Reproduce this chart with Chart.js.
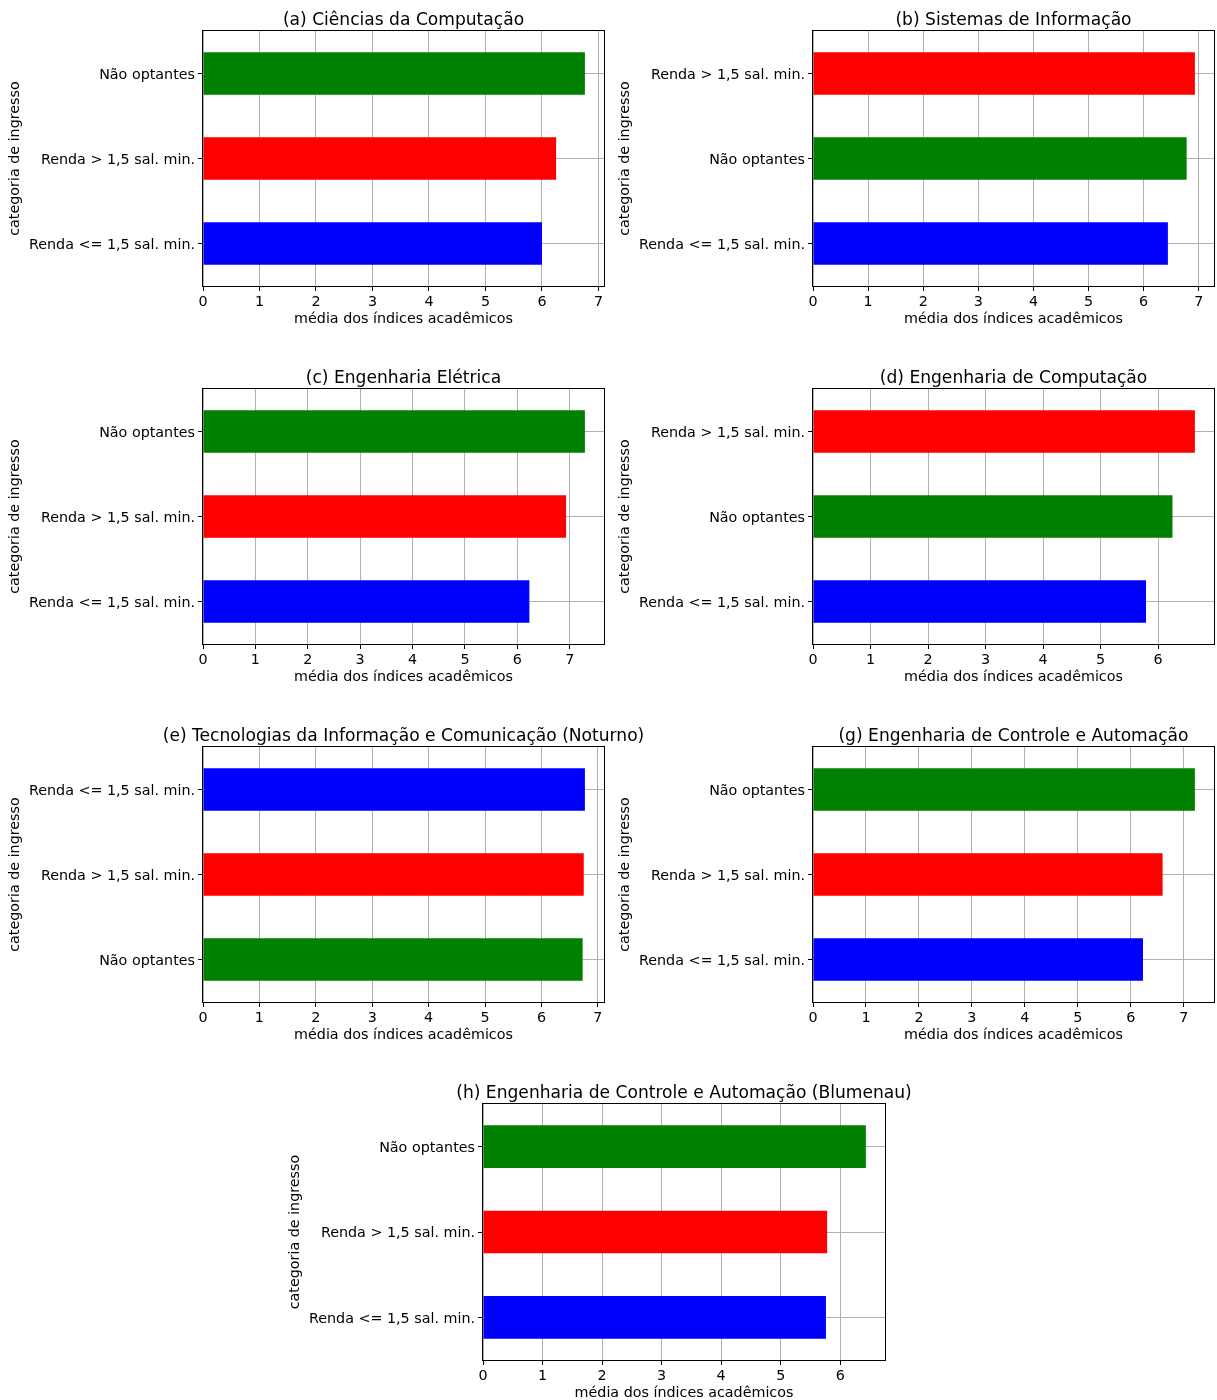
<!DOCTYPE html>
<html>
<head>
<meta charset="utf-8">
<script src="https://cdn.jsdelivr.net/npm/chart.js@4.4.1/dist/chart.umd.min.js"></script>
<style>
  html, body { margin: 0; padding: 0; background: #ffffff; }
  body { width: 1217px; height: 1400px; position: relative; overflow: hidden; }
  canvas { position: absolute; background: transparent; }
</style>
</head>
<body>
<canvas id="cA" width="650" height="336" style="left:0px;top:0px;"></canvas>
<canvas id="cB" width="607" height="336" style="left:610px;top:0px;"></canvas>
<canvas id="cC" width="650" height="336" style="left:0px;top:358px;"></canvas>
<canvas id="cD" width="607" height="336" style="left:610px;top:358px;"></canvas>
<canvas id="cE" width="650" height="336" style="left:0px;top:716px;"></canvas>
<canvas id="cG" width="607" height="336" style="left:610px;top:716px;"></canvas>
<canvas id="cH" width="650" height="337" style="left:280px;top:1073px;"></canvas>
<script>
// ---------- data ----------
const NO = "Não optantes";
const RA = "Renda > 1,5 sal. min.";
const RB = "Renda <= 1,5 sal. min.";

const titleA = "(a) Ciências da Computação";
const catsA = [NO, RA, RB];
const valsA = [6.76, 6.25, 6.00];

const titleB = "(b) Sistemas de Informação";
const catsB = [RA, NO, RB];
const valsB = [6.93, 6.78, 6.44];

const titleC = "(c) Engenharia Elétrica";
const catsC = [NO, RA, RB];
const valsC = [7.29, 6.93, 6.23];

const titleD = "(d) Engenharia de Computação";
const catsD = [RA, NO, RB];
const valsD = [6.64, 6.25, 5.79];

const titleE = "(e) Tecnologias da Informação e Comunicação (Noturno)";
const catsE = [RB, RA, NO];
const valsE = [6.77, 6.75, 6.73];

const titleG = "(g) Engenharia de Controle e Automação";
const catsG = [NO, RA, RB];
const valsG = [7.21, 6.60, 6.23];

const titleH = "(h) Engenharia de Controle e Automação (Blumenau)";
const catsH = [NO, RA, RB];
const valsH = [6.43, 5.78, 5.76];

const xLabel = "média dos índices acadêmicos";
const yLabel = "categoria de ingresso";

// ---------- styles ----------
const catColor = {};
catColor[NO] = "#008000";
catColor[RA] = "#ff0000";
catColor[RB] = "#0000ff";

Chart.defaults.font.family = "'DejaVu Sans', sans-serif";
Chart.defaults.color = "#000000";

const panelTitlePlugin = {
  id: "panelTitle",
  afterDraw(chart, args, opts) {
    const {ctx, chartArea} = chart;
    ctx.save();
    ctx.font = "17.1px 'DejaVu Sans', sans-serif";
    ctx.fillStyle = "#000000";
    ctx.textAlign = "center";
    ctx.textBaseline = "alphabetic";
    ctx.fillText(opts.text, (chartArea.left + chartArea.right) / 2, chartArea.top - 6);
    ctx.restore();
  }
};

const framePlugin = {
  id: "frame",
  afterDraw(chart) {
    const {ctx, chartArea} = chart;
    ctx.save();
    ctx.strokeStyle = "#000000";
    ctx.lineWidth = 1;
    ctx.strokeRect(Math.round(chartArea.left) - 0.5, Math.round(chartArea.top) - 0.5,
                   Math.round(chartArea.right - chartArea.left) + 1,
                   Math.round(chartArea.bottom - chartArea.top) + 1);
    ctx.restore();
  }
};

function makePanel(id, title, cats, vals, padRight) {
  new Chart(document.getElementById(id), {
    type: "bar",
    data: {
      labels: cats,
      datasets: [{
        data: vals,
        backgroundColor: cats.map(c => catColor[c]),
        borderWidth: 0,
        categoryPercentage: 1.0,
        barPercentage: 0.5
      }]
    },
    options: {
      indexAxis: "y",
      responsive: false,
      animation: false,
      layout: { padding: { left: 0, top: 31, right: padRight, bottom: 0 } },
      plugins: {
        legend: { display: false },
        tooltip: { enabled: false },
        panelTitle: { text: title }
      },
      scales: {
        x: {
          type: "linear",
          min: 0,
          max: Math.max(...vals) * 1.05,
          z: 1,
          border: { display: false },
          grid: { color: "#b0b0b0", lineWidth: 1, tickColor: "#000000", tickLength: 5, drawTicks: true },
          ticks: { stepSize: 1, includeBounds: false, padding: 3, color: "#000000",
                   font: { size: 14.3 } },
          title: { display: true, text: xLabel, color: "#000000", font: { size: 14.3 },
                   padding: { top: 0, bottom: 8 } },
          afterFit(scale) { scale.height = 50; }
        },
        y: {
          type: "category",
          offset: true,
          z: 1,
          border: { display: false },
          grid: { offset: false, color: "#b0b0b0", lineWidth: 1, tickColor: "#000000", tickLength: 5 },
          ticks: { padding: 3, labelOffset: 1.5, color: "#000000", font: { size: 14.3 } },
          title: { display: true, text: yLabel, color: "#000000", font: { size: 14.3 },
                   padding: { top: 7, bottom: 0 } },
          afterFit(scale) { scale.width = 203; }
        }
      }
    },
    plugins: [panelTitlePlugin, framePlugin]
  });
}

makePanel("cA", titleA, catsA, valsA, 46);
makePanel("cB", titleB, catsB, valsB, 3);
makePanel("cC", titleC, catsC, valsC, 46);
makePanel("cD", titleD, catsD, valsD, 3);
makePanel("cE", titleE, catsE, valsE, 46);
makePanel("cG", titleG, catsG, valsG, 3);
makePanel("cH", titleH, catsH, valsH, 45);
</script>
</body>
</html>
